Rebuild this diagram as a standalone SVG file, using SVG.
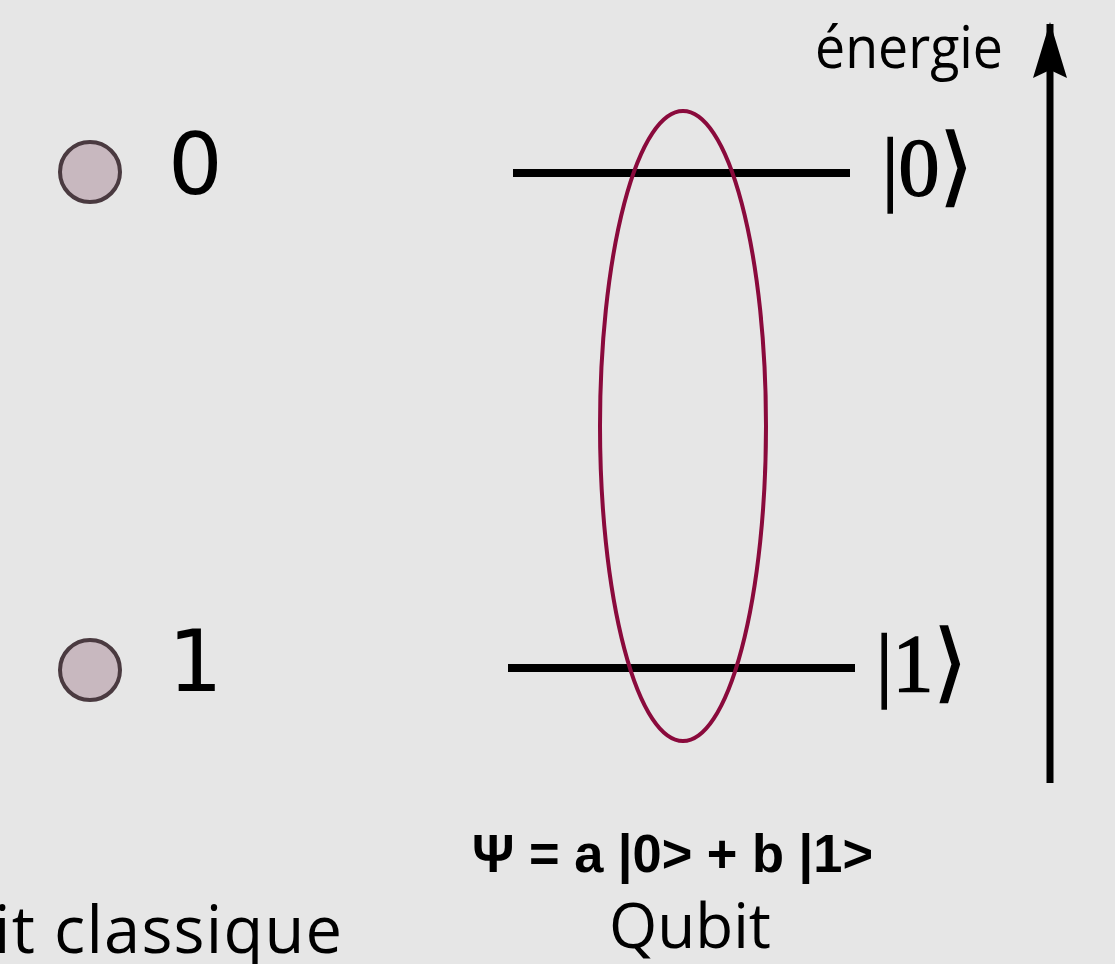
<svg xmlns="http://www.w3.org/2000/svg" width="1115" height="964" viewBox="0 0 1115 964">
<style>
.bit{fill:#c8b8bf;stroke:#4a3a40;stroke-width:4}
.num{font-family:"DejaVu Sans",sans-serif;font-size:86px;fill:#000}
.ket{font-family:"Liberation Serif","DejaVu Serif",serif;font-size:82px;fill:#000;stroke:#000;stroke-width:1.5}
.br{font-family:"DejaVu Sans",sans-serif;font-size:86px}
.lvl{stroke:#000;stroke-width:8}
.lbl{font-family:"Open Sans","Noto Sans",sans-serif;fill:#000}
</style>
<defs>
<marker id="ah" markerUnits="userSpaceOnUse" markerWidth="56" markerHeight="34" refX="54" refY="17" orient="auto" viewBox="0 0 56 34">
<path d="M56 17 L0 0 L8 17 L0 34 Z" fill="#000"/>
</marker>
</defs>
<rect width="1115" height="964" fill="#e6e6e6"/>
<g id="bit0">
<circle class="bit" cx="90" cy="172" r="30"/>
<text class="num" x="168" y="194">0</text>
</g>
<g id="bit1">
<circle class="bit" cx="90" cy="670" r="30"/>
<text class="num" x="168" y="691">1</text>
</g>
<g id="level0">
<line class="lvl" x1="513" y1="173" x2="850" y2="173"/>
<text class="ket" x="882" y="195">|0<tspan class="br">⟩</tspan></text>
</g>
<g id="level1">
<line class="lvl" x1="508" y1="668" x2="855" y2="668"/>
<text class="ket" x="876" y="691">|1<tspan class="br">⟩</tspan></text>
</g>
<g id="superposition">
<ellipse cx="683" cy="426" rx="83" ry="315" fill="none" stroke="#8a0a3c" stroke-width="4"/>
</g>
<g id="connectors">
<line x1="1050" y1="783" x2="1050" y2="24" stroke="#000" stroke-width="7" marker-end="url(#ah)"/>
</g>
<g id="axis-label">
<text class="lbl" x="815" y="68" font-size="58" textLength="188" lengthAdjust="spacingAndGlyphs">énergie</text>
</g>
<g id="captions">
<text x="472" y="872" font-family="'Liberation Sans',Arial,sans-serif" font-weight="bold" font-size="54" textLength="401" lengthAdjust="spacingAndGlyphs">Ψ = a |0&gt; + b |1&gt;</text>
<text class="lbl" x="690" y="948" text-anchor="middle" font-size="62">Qubit</text>
<text class="lbl" x="-6" y="953" font-size="65" textLength="348" lengthAdjust="spacing">it classique</text>
</g>
</svg>
